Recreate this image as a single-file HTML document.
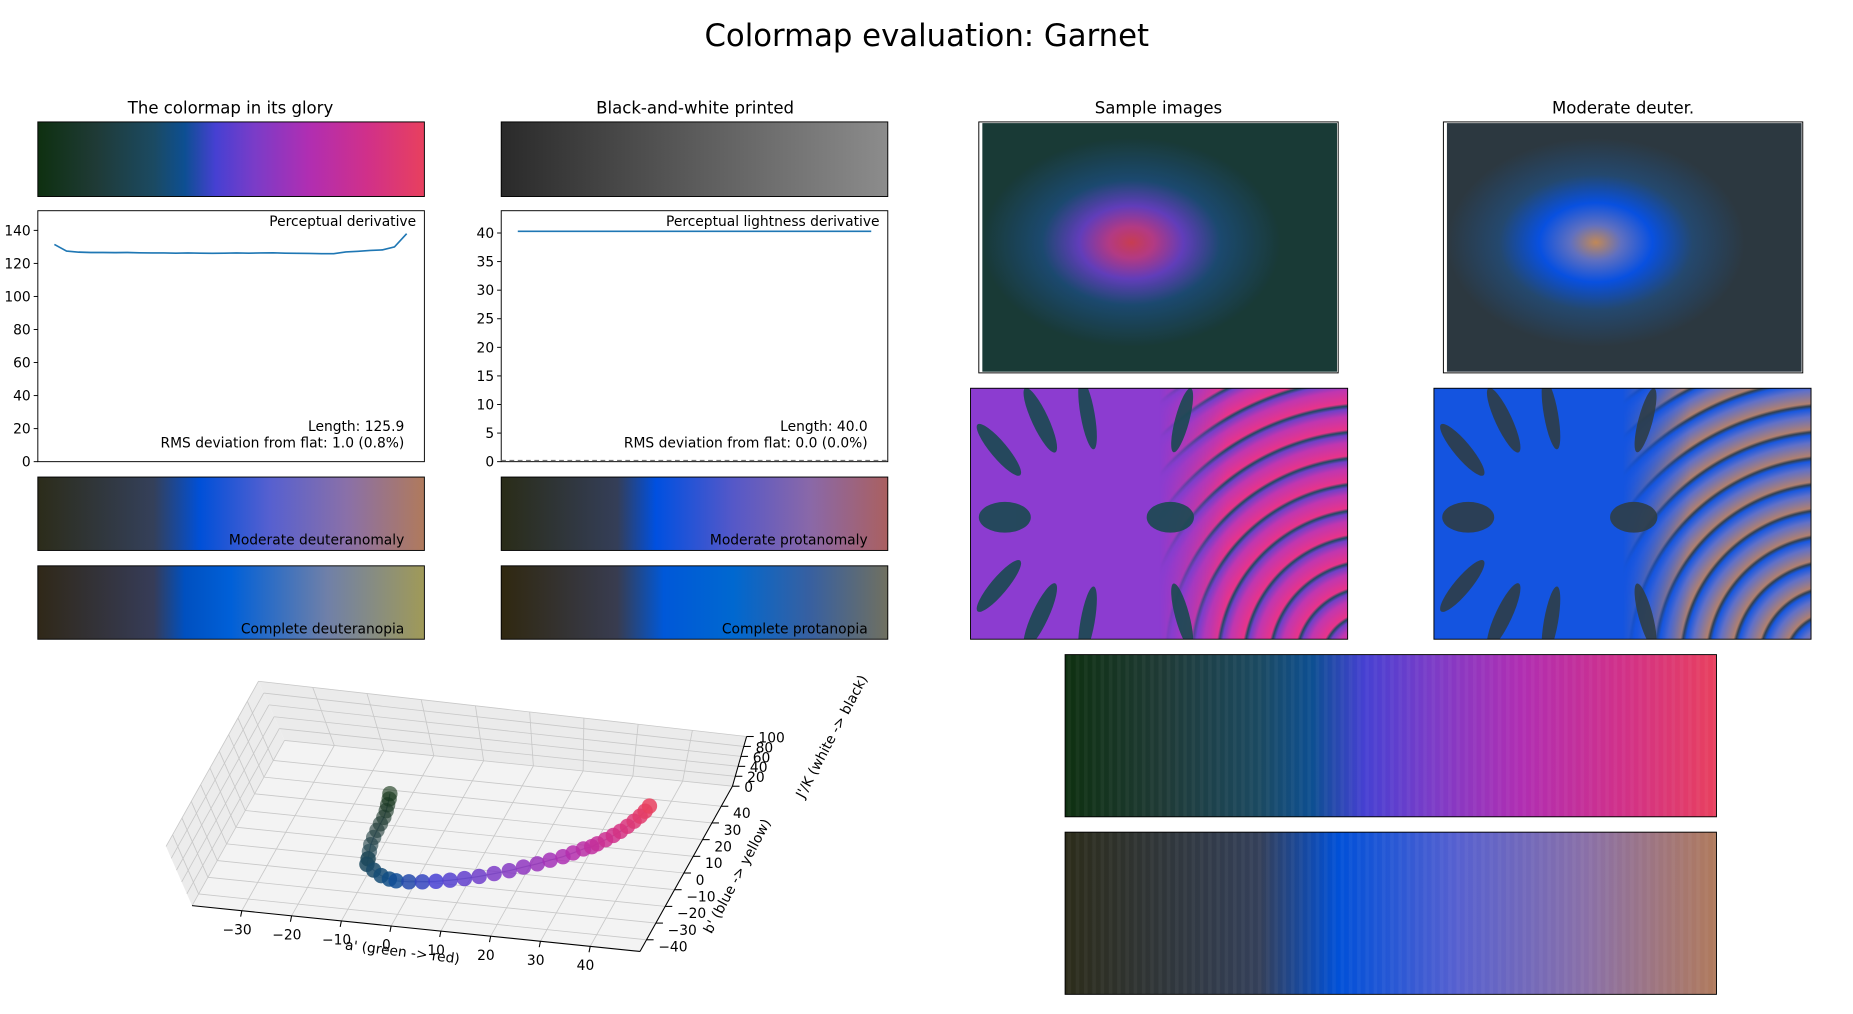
<!DOCTYPE html>
<html><head><meta charset="utf-8"><style>
html,body{margin:0;padding:0;background:#fff;overflow:hidden}
svg{display:block}
text{font-family:"DejaVu Sans","Liberation Sans",sans-serif;fill:#000}
</style></head><body>
<svg id="fig" width="1853" height="1014" viewBox="0 0 1567.5 856.6" preserveAspectRatio="none" xmlns="http://www.w3.org/2000/svg">
<defs>
<linearGradient id="garnet"><stop offset="0" stop-color="#0e3010"/><stop offset="0.15" stop-color="#1f3a36"/><stop offset="0.3" stop-color="#1b4a62"/><stop offset="0.38" stop-color="#0d4f92"/><stop offset="0.46" stop-color="#4640d2"/><stop offset="0.56" stop-color="#7a3cc8"/><stop offset="0.7" stop-color="#b02eb2"/><stop offset="0.85" stop-color="#d0308a"/><stop offset="1" stop-color="#e8405e"/></linearGradient>
<linearGradient id="gray"><stop offset="0" stop-color="#2a2a2a"/><stop offset="1" stop-color="#8c8c8c"/></linearGradient>
<linearGradient id="mdeut"><stop offset="0" stop-color="#2c2c1a"/><stop offset="0.3" stop-color="#34405a"/><stop offset="0.42" stop-color="#0050d8"/><stop offset="0.6" stop-color="#5660d0"/><stop offset="0.8" stop-color="#8a70a8"/><stop offset="1" stop-color="#b07a5c"/></linearGradient>
<linearGradient id="mprot"><stop offset="0" stop-color="#2a2c18"/><stop offset="0.3" stop-color="#343e58"/><stop offset="0.4" stop-color="#0050e0"/><stop offset="0.6" stop-color="#5558c8"/><stop offset="0.8" stop-color="#8a68a8"/><stop offset="1" stop-color="#aa6060"/></linearGradient>
<linearGradient id="cdeut"><stop offset="0" stop-color="#302818"/><stop offset="0.3" stop-color="#363c58"/><stop offset="0.38" stop-color="#0050c0"/><stop offset="0.5" stop-color="#0060d8"/><stop offset="0.75" stop-color="#7080a8"/><stop offset="1" stop-color="#a09a58"/></linearGradient>
<linearGradient id="cprot"><stop offset="0" stop-color="#302810"/><stop offset="0.3" stop-color="#383c50"/><stop offset="0.42" stop-color="#0058d8"/><stop offset="0.6" stop-color="#0068d0"/><stop offset="0.8" stop-color="#3860a0"/><stop offset="1" stop-color="#707060"/></linearGradient>
<radialGradient id="blobA" cx="0.42" cy="0.48" r="0.42"><stop offset="0" stop-color="#e8405e"/><stop offset="0.15" stop-color="#d03c98"/><stop offset="0.35" stop-color="#7040d8"/><stop offset="0.6" stop-color="#1e4e80"/><stop offset="1" stop-color="#1c3c3e"/></radialGradient>
<radialGradient id="blobB" cx="0.42" cy="0.48" r="0.42"><stop offset="0" stop-color="#c08858"/><stop offset="0.17" stop-color="#6070c0"/><stop offset="0.38" stop-color="#0850e0"/><stop offset="0.65" stop-color="#24486e"/><stop offset="1" stop-color="#2c3840"/></radialGradient>
<radialGradient id="ripC" gradientUnits="userSpaceOnUse" cx="1160" cy="560" r="22" spreadMethod="repeat"><stop offset="0" stop-color="#e8348a"/><stop offset="0.5" stop-color="#c036b0"/><stop offset="0.78" stop-color="#7040c8"/><stop offset="0.9" stop-color="#1e4a60"/><stop offset="1" stop-color="#e8348a"/></radialGradient>
<radialGradient id="ripD" gradientUnits="userSpaceOnUse" cx="1552" cy="560" r="22" spreadMethod="repeat"><stop offset="0" stop-color="#b08070"/><stop offset="0.5" stop-color="#6070c8"/><stop offset="0.78" stop-color="#1858e0"/><stop offset="0.9" stop-color="#304050"/><stop offset="1" stop-color="#b08070"/></radialGradient>
<linearGradient id="fadeL" x1="0" x2="1"><stop offset="0" stop-color="#fff" stop-opacity="0"/><stop offset="0.5" stop-color="#fff" stop-opacity="0"/><stop offset="0.68" stop-color="#fff" stop-opacity="1"/></linearGradient>
<mask id="maskC" maskUnits="userSpaceOnUse"><rect x="821" y="328" width="319" height="212" fill="url(#fadeL)"/></mask>
<linearGradient id="fadeD" x1="0" x2="1"><stop offset="0" stop-color="#fff" stop-opacity="0"/><stop offset="0.5" stop-color="#fff" stop-opacity="0"/><stop offset="0.68" stop-color="#fff" stop-opacity="1"/></linearGradient>
<mask id="maskD" maskUnits="userSpaceOnUse"><rect x="1213" y="328" width="319" height="212" fill="url(#fadeD)"/></mask>
<clipPath id="clipC"><rect x="821" y="328" width="319" height="212"/></clipPath>
<clipPath id="clipD"><rect x="1213" y="328" width="319" height="212"/></clipPath>
<pattern id="vstripes" width="7" height="10" patternUnits="userSpaceOnUse"><rect width="3" height="10" fill="#fff" opacity="0.04"/></pattern>
</defs>

<text x="784" y="39" font-size="26" text-anchor="middle">Colormap evaluation: Garnet</text>

<text x="195" y="96" font-size="14" text-anchor="middle">The colormap in its glory</text>
<text x="588" y="96" font-size="14" text-anchor="middle">Black-and-white printed</text>
<text x="980" y="96" font-size="14" text-anchor="middle">Sample images</text>
<text x="1373" y="96" font-size="14" text-anchor="middle">Moderate deuter.</text>

<rect x="32" y="103" width="327" height="63" fill="url(#garnet)" stroke="#000" stroke-width="0.8"/>
<rect x="424" y="103" width="327" height="63" fill="url(#gray)" stroke="#000" stroke-width="0.8"/>

<g id="deriv1"></g>
<g id="deriv2"></g>

<rect x="32" y="403" width="327" height="62" fill="url(#mdeut)" stroke="#000" stroke-width="0.8"/>
<text x="342" y="460" font-size="11.7" text-anchor="end">Moderate deuteranomaly</text>
<rect x="424" y="403" width="327" height="62" fill="url(#mprot)" stroke="#000" stroke-width="0.8"/>
<text x="734" y="460" font-size="11.7" text-anchor="end">Moderate protanomaly</text>
<rect x="32" y="478" width="327" height="62" fill="url(#cdeut)" stroke="#000" stroke-width="0.8"/>
<text x="342" y="535" font-size="11.7" text-anchor="end">Complete deuteranopia</text>
<rect x="424" y="478" width="327" height="62" fill="url(#cprot)" stroke="#000" stroke-width="0.8"/>
<text x="734" y="535" font-size="11.7" text-anchor="end">Complete protanopia</text>

<g>
<rect x="828" y="103" width="304" height="212" fill="#fff" stroke="#000" stroke-width="0.8"/>
<rect x="831" y="104" width="300" height="210" fill="url(#blobA)"/>
<rect x="831" y="104" width="300" height="210" fill="#0e3010" opacity="0.15"/>
</g>
<g>
<rect x="1221" y="103" width="304" height="212" fill="#fff" stroke="#000" stroke-width="0.8"/>
<rect x="1224" y="104" width="300" height="210" fill="url(#blobB)"/>
</g>
<g clip-path="url(#clipC)">
<rect x="821" y="328" width="319" height="212" fill="#8c3cd0"/>
<rect x="821" y="328" width="319" height="212" fill="url(#ripC)" mask="url(#maskC)"/>
<g fill="#1a4a50" opacity="0.9">
<ellipse cx="850" cy="437" rx="22" ry="13"/><ellipse cx="990" cy="437" rx="20" ry="13"/>
<ellipse cx="845" cy="380" rx="7" ry="28" transform="rotate(-40 845 380)"/><ellipse cx="880" cy="355" rx="7" ry="30" transform="rotate(-25 880 355)"/>
<ellipse cx="920" cy="350" rx="6" ry="30" transform="rotate(-10 920 350)"/><ellipse cx="845" cy="495" rx="7" ry="28" transform="rotate(40 845 495)"/>
<ellipse cx="880" cy="520" rx="7" ry="30" transform="rotate(25 880 520)"/><ellipse cx="920" cy="525" rx="6" ry="30" transform="rotate(10 920 525)"/>
<ellipse cx="1000" cy="355" rx="6" ry="28" transform="rotate(15 1000 355)"/><ellipse cx="1000" cy="520" rx="6" ry="28" transform="rotate(-15 1000 520)"/>
</g></g>
<g clip-path="url(#clipD)">
<rect x="1213" y="328" width="319" height="212" fill="#1454e0"/>
<rect x="1213" y="328" width="319" height="212" fill="url(#ripD)" mask="url(#maskD)"/>
<g fill="#2e3e48" opacity="0.9">
<ellipse cx="1242" cy="437" rx="22" ry="13"/><ellipse cx="1382" cy="437" rx="20" ry="13"/>
<ellipse cx="1237" cy="380" rx="7" ry="28" transform="rotate(-40 1237 380)"/><ellipse cx="1272" cy="355" rx="7" ry="30" transform="rotate(-25 1272 355)"/>
<ellipse cx="1312" cy="350" rx="6" ry="30" transform="rotate(-10 1312 350)"/><ellipse cx="1237" cy="495" rx="7" ry="28" transform="rotate(40 1237 495)"/>
<ellipse cx="1272" cy="520" rx="7" ry="30" transform="rotate(25 1272 520)"/><ellipse cx="1312" cy="525" rx="6" ry="30" transform="rotate(10 1312 525)"/>
<ellipse cx="1392" cy="355" rx="6" ry="28" transform="rotate(15 1392 355)"/><ellipse cx="1392" cy="520" rx="6" ry="28" transform="rotate(-15 1392 520)"/>
</g></g>
<rect x="821" y="328" width="319" height="212" fill="none" stroke="#000" stroke-width="0.8"/>
<rect x="1213" y="328" width="319" height="212" fill="none" stroke="#000" stroke-width="0.8"/>

<g>
<rect x="901" y="553" width="551" height="137" fill="url(#garnet)"/>
<rect x="901" y="553" width="551" height="137" fill="url(#vstripes)" stroke="#000" stroke-width="0.8"/>
</g>
<g>
<rect x="901" y="703" width="551" height="137" fill="url(#mdeut)"/>
<rect x="901" y="703" width="551" height="137" fill="url(#vstripes)" stroke="#000" stroke-width="0.8"/>
</g>

<g id="plot3d"></g>
</svg>
<script>
// ---- derivative chart data ----
const deriv1Values = [131.5,127.5,126.8,126.6,126.6,126.5,126.6,126.4,126.3,126.3,126.2,126.3,126.2,126.1,126.2,126.3,126.2,126.3,126.4,126.2,126.1,126.0,125.9,125.9,127.0,127.3,127.8,128.2,130.0,138.0];
const deriv1Ticks = [0,20,40,60,80,100,120,140];
const deriv2Values = [40.3,40.3];
const deriv2Ticks = [0,5,10,15,20,25,30,35,40];
// ---- 3D path data (a', b', J') ----
const pathA = [-12.6,-12.0,-11.5,-11.0,-10.6,-10.4,-10.2,-10.0,-9.6,-9.0,-8.4,-7.9,-6,-4,-2,-0.5,2,4.5,7,9.5,12,14.5,17,19.5,21.8,24,26,28,29.5,31,32.3,33.1,34.2,35.2,36.1,36.9,37.6,38.2,38.6,38.9];
const pathB = [21.7,18,14,10,5.5,1,-3.5,-8,-13,-17.5,-22,-25.8,-29,-32,-34,-34.9,-35,-34.5,-33.7,-32.5,-31,-29.2,-27,-24.7,-22.4,-20,-17.5,-15,-12.5,-10,-8.5,-7.1,-4.5,-2,0.5,3.5,6.5,9.5,12.5,15.4];
const pathJ = [20,22,24,26,28,30,32,33,35,37,38,40,41,42,44,45,46,47,48,49,50,51,52,53,55,56,57,58,59,60,61,63,64,65,66,67,68,68.5,69,70];
const aTicks = [-30,-20,-10,0,10,20,30,40];
const bTicks = [-40,-30,-20,-10,0,10,20,30,40];
const jTicks = [0,20,40,60,80,100];

const NS='http://www.w3.org/2000/svg';
function mk(tag, attrs, parent){const e=document.createElementNS(NS,tag);for(const k in attrs)e.setAttribute(k,attrs[k]);parent.appendChild(e);return e;}

function derivChart(g, vals, ticks, ymax, x0, x1, lx0, lx1, title, len, rms, dashed){
  const top=178, bot=390;
  const y = v => bot - (v/ymax)*(bot-top);
  const x = i => lx0 + (lx1-lx0)*i/(vals.length-1);
  mk('rect',{x:x0,y:top,width:x1-x0,height:bot-top,fill:'#fff',stroke:'#000','stroke-width':0.8},g);
  if(dashed){const d=mk('line',{x1:x0,x2:x1,y1:y(0)-1,y2:y(0)-1,stroke:'#777','stroke-dasharray':'4,3','stroke-width':1},g);
    
    }
  ticks.forEach(t=>{
    mk('line',{x1:x0-3.5,x2:x0,y1:y(t),y2:y(t),stroke:'#000','stroke-width':0.8},g);
    const tx=mk('text',{x:x0-6,y:y(t)+4.2,'font-size':11.7,'text-anchor':'end'},g);tx.textContent=t;
    
    
  });
  const pts=vals.map((v,i)=>x(i).toFixed(1)+','+y(v).toFixed(1)).join(' ');
  const pl=mk('polyline',{points:pts,fill:'none',stroke:'#1f77b4','stroke-width':1.4},g);
  
  
  const t1=mk('text',{x:x1-7,y:191,'font-size':11.7,'text-anchor':'end'},g);t1.textContent=title;
  
  
  const t2=mk('text',{x:x1-17,y:364,'font-size':11.7,'text-anchor':'end'},g);t2.textContent=len;
  
  
  const t3=mk('text',{x:x1-17,y:378,'font-size':11.7,'text-anchor':'end'},g);t3.textContent=rms;
  
  
}
derivChart(document.getElementById('deriv1'),deriv1Values,deriv1Ticks,151.9,32,359,46,344,'Perceptual derivative','Length: 125.9','RMS deviation from flat: 1.0 (0.8%)',false);
derivChart(document.getElementById('deriv2'),deriv2Values,deriv2Ticks,43.9,424,751,438,737,'Perceptual lightness derivative','Length: 40.0','RMS deviation from flat: 0.0 (0.0%)',true);

// ---- 3D projection (with simple perspective on J direction) ----
const g3=document.getElementById('plot3d');
const O=[368,716], A=[4.21,0.43], B=[0.79,-1.41];
const amin=-40,amax=50,bmin=-47,bmax=52,jmax=100;
function JV(a){const f=(a-amin)/(amax-amin);return [-0.22+0.34*f, -0.5+0.08*f];}
function P(a,b,j){const jv=JV(a);return [O[0]+a*A[0]+b*B[0]+j*jv[0], O[1]+a*A[1]+b*B[1]+j*jv[1]];}
function poly(pts,fill,name){const p=mk('polygon',{points:pts.map(q=>q.join(',')).join(' '),fill:fill,stroke:'none'},g3);
  
  }
poly([P(amin,bmin,0),P(amin,bmax,0),P(amin,bmax,jmax),P(amin,bmin,jmax)],'#ececec','left-pane');
poly([P(amin,bmax,0),P(amax,bmax,0),P(amax,bmax,jmax),P(amin,bmax,jmax)],'#ebebeb','back-pane');
poly([P(amin,bmin,0),P(amax,bmin,0),P(amax,bmax,0),P(amin,bmax,0)],'#f3f3f3','floor-pane');
function gl(p,q){mk('line',{x1:p[0],y1:p[1],x2:q[0],y2:q[1],stroke:'#c8c8c8','stroke-width':0.7},g3);}
aTicks.forEach(a=>{gl(P(a,bmin,0),P(a,bmax,0));gl(P(a,bmax,0),P(a,bmax,jmax));});
bTicks.forEach(b=>{gl(P(amin,b,0),P(amax,b,0));gl(P(amin,b,0),P(amin,b,jmax));});
jTicks.forEach(j=>{gl(P(amin,bmin,j),P(amin,bmax,j));gl(P(amin,bmax,j),P(amax,bmax,j));});
function al(p,q){mk('line',{x1:p[0],y1:p[1],x2:q[0],y2:q[1],stroke:'#000','stroke-width':0.9},g3);}
al(P(amin,bmin,0),P(amax,bmin,0));
al(P(amax,bmin,0),P(amax,bmax,0));
al(P(amax,bmax,0),P(amax,bmax,jmax));
function lbl(p,txt,anchor,name){const t=mk('text',{x:p[0],y:p[1],'font-size':11.7,'text-anchor':anchor},g3);t.textContent=txt.replace('-','\u2212');
  
  }
aTicks.forEach(a=>{const p=P(a,bmin,0);al(p,[p[0]-1,p[1]+5]);lbl([p[0]-4,p[1]+20],String(a),'middle','a-tick-label');});
bTicks.forEach(b=>{const p=P(amax,b,0);al(p,[p[0]+6,p[1]]);lbl([p[0]+10,p[1]+10],String(b),'start','b-tick-label');});
jTicks.forEach(j=>{const p=P(amax,bmax,j);al(p,[p[0]+6,p[1]]);lbl([p[0]+10,p[1]+5],String(j),'start','j-tick-label');});
function rl(x,y,rot,txt,name){const t=mk('text',{x:x,y:y,'font-size':11.7,'text-anchor':'middle',transform:'rotate('+rot+' '+x+' '+y+')'},g3);t.textContent=txt;
  
  }
rl(340,808,7,"a' (green -> red)",'a-axis-title');
rl(627,742,-62,"b' (blue -> yellow)",'b-axis-title');
rl(707,624,-62,"J'/K (white -> black)",'j-axis-title');
const cstops=[[0,[14,48,16]],[0.15,[31,58,54]],[0.3,[27,74,98]],[0.38,[13,79,146]],[0.46,[70,64,210]],[0.56,[122,60,200]],[0.7,[176,46,178]],[0.85,[208,48,138]],[1,[232,64,94]]];
function cmap(t){for(let i=1;i<cstops.length;i++){if(t<=cstops[i][0]){const a=cstops[i-1],b=cstops[i];const f=(t-a[0])/(b[0]-a[0]);return 'rgb('+a[1].map((c,k)=>Math.round(c+(b[1][k]-c)*f)).join(',')+')';}}return 'rgb(232,64,94)';}
const n=pathA.length;
const line=pathA.map((a,i)=>P(a,pathB[i],pathJ[i]).map(v=>v.toFixed(1)).join(',')).join(' ');
const pl=mk('polyline',{points:line,fill:'none',stroke:'#3a4a80','stroke-width':1,opacity:0.6},g3);


for(let i=0;i<n;i++){
  const p=P(pathA[i],pathB[i],pathJ[i]);
  const c=mk('circle',{cx:p[0].toFixed(1),cy:p[1].toFixed(1),r:6.5,fill:cmap(i/(n-1)),opacity:i<10?0.6:0.85},g3);
  
  
}
</script>
</body></html>
